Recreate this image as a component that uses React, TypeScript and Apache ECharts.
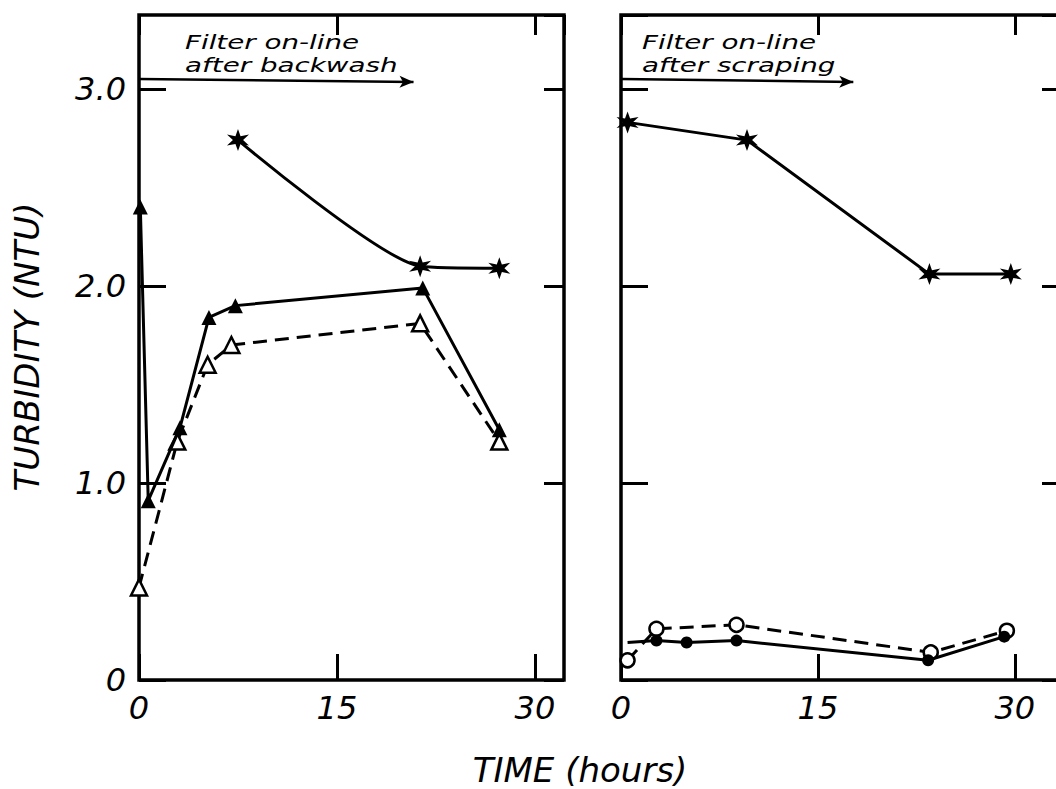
import React, { useEffect, useRef } from "react";
import * as echarts from "echarts";

// ---------- data ----------
const yTickLabels = ["0", "1.0", "2.0", "3.0"];
const xTickLabels = ["0", "15", "30"];

// Left panel: filter on-line after backwash
const leftStarX = [7.5, 21.3, 27.3];
const leftStarY = [2.74, 2.1, 2.09];
const leftFilledTriX = [0.1, 0.7, 3.1, 5.3, 7.3, 21.5, 27.3];
const leftFilledTriY = [2.4, 0.91, 1.28, 1.84, 1.9, 1.99, 1.27];
const leftOpenTriX = [0, 2.9, 5.2, 7.0, 21.3, 27.3];
const leftOpenTriY = [0.47, 1.21, 1.6, 1.7, 1.81, 1.21];

// Right panel: filter on-line after scraping
const rightStarX = [0.5, 9.6, 23.5, 29.7];
const rightStarY = [2.83, 2.74, 2.06, 2.06];
const rightOpenCircX = [0.5, 2.7, 8.8, 23.6, 29.4];
const rightOpenCircY = [0.1, 0.26, 0.28, 0.14, 0.25];
const rightFilledCircX = [0.5, 2.7, 5.0, 8.8, 23.4, 29.2];
const rightFilledCircY = [0.19, 0.2, 0.19, 0.2, 0.1, 0.22];

// annotation arrows (data coordinates)
const leftArrow = [[0, 3.05], [20.8, 3.035]];
const rightArrow = [[0, 3.05], [17.7, 3.035]];

const leftNote = ["Filter on-line", "after backwash"];
const rightNote = ["Filter on-line", "after scraping"];
const yTitle = "TURBIDITY (NTU)";
const xTitle = "TIME (hours)";

// ---------- styling / layout ----------
const FONT = "DejaVu Sans";
const starPath =
  "path://M10 0 L12 6.54 L18.66 5 L14 10 L18.66 15 L12 13.46 L10 20 L8 13.46 L1.34 15 L6 10 L1.34 5 L8 6.54 Z";

const zip = (xs: number[], ys: number[]) => xs.map((x, i) => [x, ys[i]]);

function makeAxesX(gridIndex: number, max: number) {
  const common = {
    type: "value",
    gridIndex,
    min: 0,
    max,
    interval: 15,
    splitLine: { show: false },
    axisLine: { show: false, onZero: false },
  };
  return [
    {
      ...common,
      position: "bottom",
      axisTick: { show: true, inside: true, length: 26, lineStyle: { color: "#000", width: 3 } },
      axisLabel: {
        show: true,
        showMaxLabel: false,
        margin: 12,
        color: "#000",
        fontSize: 32,
        fontStyle: "italic",
        fontFamily: FONT,
        formatter: (v: number) => xTickLabels[Math.round(v / 15)] ?? "",
      },
    },
    {
      ...common,
      position: "top",
      axisTick: { show: true, inside: true, length: 20, lineStyle: { color: "#000", width: 3 } },
      axisLabel: { show: false },
    },
  ];
}

function makeAxesY(gridIndex: number, showLabels: boolean) {
  const common = {
    type: "value",
    gridIndex,
    min: 0,
    max: 3.375,
    interval: 1,
    splitLine: { show: false },
    axisLine: { show: false, onZero: false },
  };
  return [
    {
      ...common,
      position: "left",
      axisTick: { show: true, inside: true, length: 27, lineStyle: { color: "#000", width: 3 } },
      axisLabel: {
        show: showLabels,
        showMaxLabel: false,
        margin: 13,
        color: "#000",
        fontSize: 32,
        fontStyle: "italic",
        fontFamily: FONT,
        formatter: (v: number) => yTickLabels[Math.round(v)] ?? "",
      },
    },
    {
      ...common,
      position: "right",
      axisTick: { show: true, inside: true, length: 20, lineStyle: { color: "#000", width: 3 } },
      axisLabel: { show: false },
    },
  ];
}

function series(
  xs: number[],
  ys: number[],
  axis: number,
  kind: "star" | "filledTri" | "openTri" | "openCirc" | "filledCirc",
  extra: any = {}
) {
  const dashed = kind === "openTri" || kind === "openCirc";
  let symbol = "circle";
  let symbolSize = 12;
  let itemStyle: any = { color: "#000" };
  if (kind === "star") {
    symbol = starPath;
    symbolSize = 22;
  } else if (kind === "filledTri") {
    symbol = "triangle";
    symbolSize = 15;
  } else if (kind === "openTri") {
    symbol = "triangle";
    symbolSize = 16;
    itemStyle = { color: "#fff", borderColor: "#000", borderWidth: 2.5 };
  } else if (kind === "openCirc") {
    symbol = "circle";
    symbolSize = 14;
    itemStyle = { color: "#fff", borderColor: "#000", borderWidth: 2.5 };
  }
  return {
    type: "line",
    xAxisIndex: axis,
    yAxisIndex: axis,
    data: zip(xs, ys),
    symbol,
    symbolSize,
    showSymbol: true,
    smooth: false,
    itemStyle,
    lineStyle: { color: "#000", width: 3, type: dashed ? [14, 8] : "solid" },
    z: dashed ? 2 : 3,
    ...extra,
  };
}

function arrowMark(pts: number[][]) {
  return {
    silent: true,
    symbol: ["none", "arrow"],
    symbolSize: [9, 14],
    label: { show: false },
    lineStyle: { color: "#000", width: 2.5, type: "solid" },
    data: [[{ coord: pts[0] }, { coord: pts[1] }]],
  };
}

function noteText(lines: string[], x: number, y: number) {
  return lines.map((t, i) => ({
    type: "text",
    x,
    y: y + i * 23,
    scaleX: 1.46,
    style: {
      text: t,
      fill: "#000",
      font: `italic 19px "${FONT}"`,
      textAlign: "left",
      textVerticalAlign: "middle",
    },
  }));
}

export default function App() {
  const ref = useRef<HTMLDivElement>(null);
  useEffect(() => {
    if (!ref.current) return;
    const chart = echarts.init(ref.current, undefined, { renderer: "svg" });
    const option: any = {
      animation: false,
      backgroundColor: "#fff",
      grid: [
        { left: 139, top: 15, width: 425, height: 665, show: true, borderColor: "#000", borderWidth: 3.5, backgroundColor: "transparent" },
        { left: 621, top: 15, width: 441, height: 665, show: true, borderColor: "#000", borderWidth: 3.5, backgroundColor: "transparent" },
      ],
      xAxis: [...makeAxesX(0, 32.2), ...makeAxesX(1, 33.6)],
      yAxis: [...makeAxesY(0, true), ...makeAxesY(1, false)],
      series: [
        series(leftOpenTriX, leftOpenTriY, 0, "openTri"),
        series(leftFilledTriX, leftFilledTriY, 0, "filledTri"),
        series(leftStarX, leftStarY, 0, "star", { smooth: 0.2, markLine: arrowMark(leftArrow) }),
        series(rightOpenCircX, rightOpenCircY, 2, "openCirc"),
        {
          ...series(rightFilledCircX, rightFilledCircY, 2, "filledCirc"),
          data: zip(rightFilledCircX, rightFilledCircY).map((p, i) =>
            i === 0 ? { value: p, symbolSize: 0 } : p
          ),
        },
        series(rightStarX, rightStarY, 2, "star", { markLine: arrowMark(rightArrow) }),
      ],
      graphic: [
        ...noteText(leftNote, 185, 43),
        ...noteText(rightNote, 642, 43),
        {
          type: "text",
          x: 27,
          y: 347,
          rotation: Math.PI / 2,
          style: {
            text: yTitle,
            fill: "#000",
            font: `italic 34px "${FONT}"`,
            textAlign: "center",
            textVerticalAlign: "middle",
          },
        },
        {
          type: "text",
          x: 580,
          y: 770,
          style: {
            text: xTitle,
            fill: "#000",
            font: `italic 34px "${FONT}"`,
            textAlign: "center",
            textVerticalAlign: "middle",
          },
        },
      ],
    };
    chart.setOption(option);
    return () => chart.dispose();
  }, []);
  return (
    <div style={{ position: "fixed", left: 0, top: 0, width: 1056, height: 789, overflow: "hidden", background: "#fff" }}>
      <div ref={ref} style={{ position: "absolute", left: 0, top: 0, width: 1080, height: 789 }} />
    </div>
  );
}
